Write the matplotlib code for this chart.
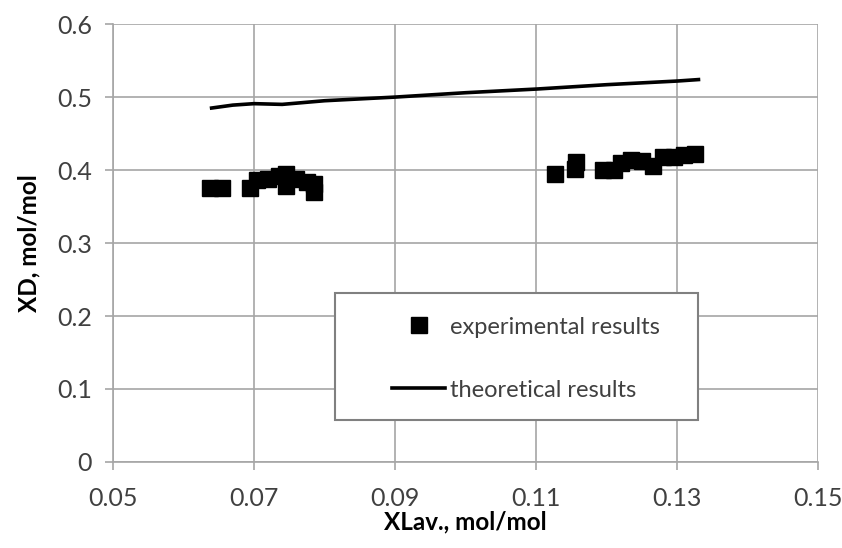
import matplotlib
matplotlib.use("Agg")
import matplotlib.pyplot as plt
from matplotlib.lines import Line2D
from matplotlib.patches import Rectangle

plt.rcParams['font.family'] = ['Lato', 'DejaVu Sans']

# experimental points (XLav, XD)
exp_x = [0.0638, 0.0655, 0.0695, 0.0705, 0.0720, 0.0735, 0.0745, 0.0745,
         0.0760, 0.0775, 0.0785, 0.0785,
         0.1126, 0.1156, 0.1155, 0.1195, 0.1210, 0.1220, 0.1235, 0.1250,
         0.1265, 0.1280, 0.1295, 0.1310, 0.1325]
exp_y = [0.375, 0.375, 0.375, 0.386, 0.388, 0.392, 0.395, 0.378,
         0.388, 0.383, 0.370, 0.381,
         0.395, 0.411, 0.401, 0.400, 0.400, 0.410, 0.414, 0.413,
         0.405, 0.418, 0.418, 0.420, 0.422]

# theoretical curve
th_x = [0.064, 0.067, 0.070, 0.074, 0.080, 0.090, 0.100, 0.110, 0.120, 0.130, 0.133]
th_y = [0.485, 0.489, 0.491, 0.490, 0.495, 0.500, 0.506, 0.511, 0.517, 0.522, 0.524]

x_ticks = [0.05, 0.07, 0.09, 0.11, 0.13, 0.15]
y_ticks = [0, 0.1, 0.2, 0.3, 0.4, 0.5, 0.6]

grid_c = '#a6a6a6'
text_c = '#404040'

fig = plt.figure(figsize=(8.42, 5.48), dpi=100)
ax = fig.add_axes([0.134, 0.157, 0.838, 0.799])

ax.plot(th_x, th_y, color='black', lw=2.6, zorder=3)
ax.plot(exp_x, exp_y, 's', color='black', ms=12, zorder=4)

ax.set_xlim(0.05, 0.15)
ax.set_ylim(0, 0.6)
ax.set_xticks(x_ticks)
ax.set_xticklabels([f"{v:g}" for v in x_ticks])
ax.set_yticks(y_ticks)
ax.set_yticklabels([f"{v:g}" for v in y_ticks])
ax.grid(True, color=grid_c, lw=1.2)
ax.set_axisbelow(True)
for side in ['top', 'right']:
    ax.spines[side].set_visible(False)
for side in ['left', 'bottom']:
    ax.spines[side].set_color(grid_c)
    ax.spines[side].set_linewidth(1.2)
ax.tick_params(axis='both', direction='out', length=6, width=1.2,
               color=grid_c, labelcolor=text_c, labelsize=18)
ax.tick_params(axis='y', pad=9)
ax.tick_params(axis='x', pad=12)

ax.set_xlabel('XLav., mol/mol', fontsize=17.5, fontweight='bold', labelpad=0)
ax.set_ylabel('XD, mol/mol', fontsize=17.5, fontweight='bold', labelpad=12)

# legend frame
ax.add_patch(Rectangle((0.315, 0.096), 0.515, 0.29, transform=ax.transAxes,
                       facecolor='white', edgecolor='#808080', lw=1.5, zorder=5))

handles = [
    Line2D([], [], ls='none', marker='s', color='black', ms=11),
    Line2D([], [], color='black', lw=2.6),
]
leg = ax.legend(handles, ['experimental results', 'theoretical results'],
                loc='upper left', bbox_to_anchor=(0.379, 0.359),
                fontsize=17, frameon=False, borderpad=0, labelspacing=1.78,
                handlelength=2.25, handletextpad=0.2)
leg.set_zorder(6)
for t in leg.get_texts():
    t.set_color(text_c)

fig.savefig('out.png', dpi=100, facecolor='white')
